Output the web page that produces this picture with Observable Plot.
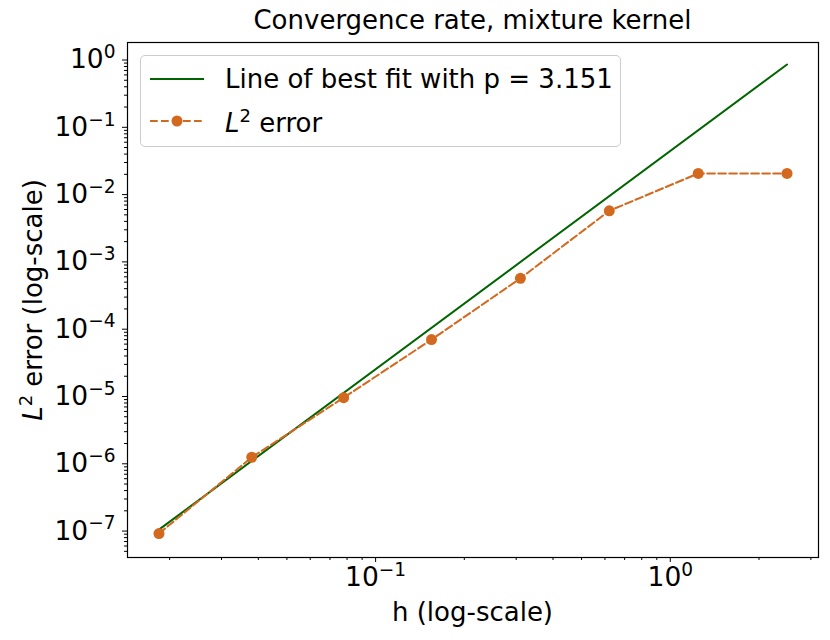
<!DOCTYPE html>
<html>
<head>
<meta charset="utf-8">
<script src="https://cdn.jsdelivr.net/npm/d3@7"></script>
<script src="https://cdn.jsdelivr.net/npm/@observablehq/plot@0.6"></script>
<style>
  body { margin: 0; background: #fff; font-family: "DejaVu Sans", sans-serif; color: #000; }
  #wrap { position: relative; width: 830px; height: 640px; overflow: hidden; }
  #title { height: 40px; line-height: 40px; width: 691px; margin-left: 127px; text-align: center; font-size: 26px; white-space: nowrap; }
  .lbl { position: absolute; font-size: 26px; white-space: nowrap; transform: translate(-50%, -50%); }
  #ylabel { transform: translate(-50%, -50%) rotate(-90deg); }
  #legend { position: absolute; left: 140px; top: 55px; width: 479px; height: 90px; border: 1px solid #cccccc; border-radius: 5px; background: rgba(255,255,255,0.8); }
  .row { position: absolute; left: 0; height: 30px; font-size: 26px; white-space: nowrap; }
  .row svg { position: absolute; left: 8px; top: 0; }
  .row span { position: absolute; left: 84px; top: 50%; transform: translateY(-50%); }
</style>
</head>
<body>
<div id="wrap">
  <div id="title">Convergence rate, mixture kernel</div>
  <div id="chart"></div>
  <div id="xlabel" class="lbl" style="left:472.5px; top:612px;">h (log-scale)</div>
  <div id="ylabel" class="lbl" style="left:31px; top:300px;"><i>L</i><sup style="font-size:18px; vertical-align: 10px;">2</sup> error (log-scale)</div>
  <div id="legend">
    <div class="row" style="top:8px; width:100%;">
      <svg width="60" height="30"><line x1="1" x2="55" y1="15" y2="15" stroke="#006400" stroke-width="2"/></svg>
      <span>Line of best fit with p = 3.151</span>
    </div>
    <div class="row" style="top:50px; width:100%;">
      <svg width="60" height="30"><line x1="1" x2="55" y1="15" y2="15" stroke="#D2691E" stroke-width="2" stroke-dasharray="7.7,3.3"/><circle cx="28" cy="15" r="5.5" fill="#D2691E"/></svg>
      <span><i>L</i><sup style="font-size:18px; vertical-align: 10px;">2</sup> error</span>
    </div>
  </div>
</div>
<script>
const hValues = [0.0184, 0.038, 0.0779, 0.1548, 0.310, 0.621, 1.244, 2.49];
const errValues = [9.2e-8, 1.25e-6, 9.6e-6, 7.0e-5, 5.7e-4, 5.75e-3, 0.0206, 0.0206];

// Line of best fit endpoints
const fitH = [0.0184, 2.49];
const fitErr = [1.05e-7, 0.857];

// Tick values and labels
const xTicks = [0.1, 1];
const xTickLabels = ["10⁻¹", "10⁰"];
const yTicks = [1e-7, 1e-6, 1e-5, 1e-4, 1e-3, 1e-2, 1e-1, 1];
const yTickLabels = ["10⁻⁷", "10⁻⁶", "10⁻⁵", "10⁻⁴", "10⁻³", "10⁻²", "10⁻¹", "10⁰"];

const xDomain = [0.01439, 3.184];
const yDomain = [4.05e-8, 1.82];

function minorTicks(lo, hi) {
  const out = [];
  for (let e = Math.floor(Math.log10(lo)); e <= Math.ceil(Math.log10(hi)); e++) {
    for (let m = 2; m <= 9; m++) {
      const v = m * Math.pow(10, e);
      if (v >= lo && v <= hi) out.push(v);
    }
  }
  return out;
}
const xMinor = minorTicks(xDomain[0], xDomain[1]);
const yMinor = minorTicks(yDomain[0], yDomain[1]);

const errData = hValues.map((h, i) => ({h, e: errValues[i]}));
const fitData = fitH.map((h, i) => ({h, e: fitErr[i]}));

const chart = Plot.plot({
  width: 830,
  height: 600,
  marginLeft: 127,
  marginRight: 12,
  marginTop: 2,
  marginBottom: 83,
  style: {fontFamily: "DejaVu Sans, sans-serif", fontSize: "26.5px", color: "#000", background: "#fff", overflow: "visible"},
  x: {type: "log", domain: xDomain},
  y: {type: "log", domain: yDomain},
  marks: [
    Plot.axisX({ticks: xMinor, tickSize: 3, tickFormat: () => "", label: null}),
    Plot.axisX({ticks: xTicks, tickSize: 5, tickPadding: 5, fontSize: 26.5, tickFormat: d => xTickLabels[xTicks.indexOf(d)], label: null}),
    Plot.axisY({ticks: yMinor, tickSize: 3, tickFormat: () => "", label: null}),
    Plot.axisY({ticks: yTicks, tickSize: 5, tickPadding: 7, fontSize: 26.5, tickFormat: d => yTickLabels[yTicks.indexOf(d)], label: null}),
    Plot.line(fitData, {x: "h", y: "e", stroke: "#006400", strokeWidth: 2}),
    Plot.line(errData, {x: "h", y: "e", stroke: "#D2691E", strokeWidth: 2, strokeDasharray: "7.7,3.3"}),
    Plot.dot(errData, {x: "h", y: "e", r: 5.5, fill: "#D2691E", stroke: "none"}),
    Plot.frame({stroke: "#000", strokeWidth: 1.2})
  ]
});

// Render tick-label exponents as real superscript text (matplotlib mathtext style)
const supMap = {"⁰":"0","¹":"1","²":"2","³":"3","⁴":"4","⁵":"5","⁶":"6","⁷":"7","⁸":"8","⁹":"9","⁻":"−"};
chart.querySelectorAll("text").forEach(t => {
  const s = t.textContent;
  const m = /^10([⁰¹²³⁴⁵⁶⁷⁸⁹⁻]+)$/.exec(s);
  if (!m) return;
  const exp = Array.from(m[1]).map(c => supMap[c]).join("");
  while (t.firstChild) t.removeChild(t.firstChild);
  const ns = "http://www.w3.org/2000/svg";
  const base = document.createElementNS(ns, "tspan");
  base.textContent = "10";
  const sup = document.createElementNS(ns, "tspan");
  sup.textContent = exp;
  sup.setAttribute("font-size", "0.7em");
  sup.setAttribute("dy", "-0.55em");
  t.appendChild(base);
  t.appendChild(sup);
});
document.getElementById("chart").appendChild(chart);
</script>
</body>
</html>
